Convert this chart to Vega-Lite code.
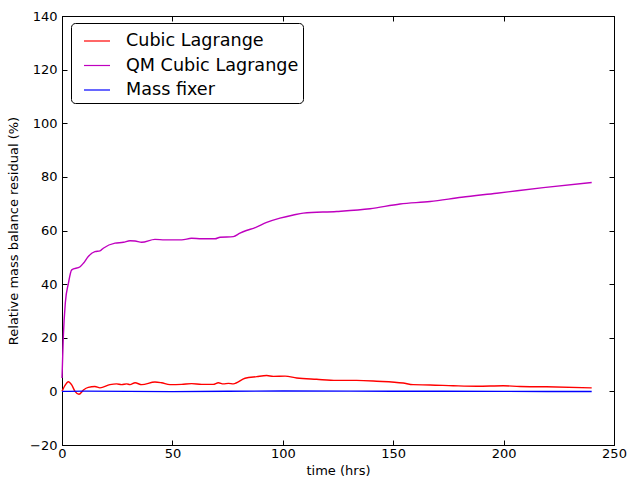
{
  "$schema": "https://vega.github.io/schema/vega-lite/v6.json",
  "width": 552,
  "height": 429,
  "autosize": {"type": "none"},
  "padding": {"left": 62, "top": 16, "right": 13, "bottom": 37},
  "background": "white",
  "config": {
    "font": "DejaVu Sans",
    "view": {"stroke": "black", "strokeWidth": 1},
    "axis": {
      "grid": false,
      "domainColor": "black",
      "tickColor": "black",
      "labelColor": "black",
      "titleColor": "black",
      "labelFont": "DejaVu Sans",
      "titleFont": "DejaVu Sans",
      "labelFontSize": 13,
      "titleFontSize": 13,
      "titleFontWeight": "normal",
      "tickSize": -5,
      "labelPadding": 10,
      "labelFlush": false,
      "labelOverlap": false
    }
  },
  "data": {
    "values": [
      {"t": 0, "v": 5, "s": "QM Cubic Lagrange"},
      {"t": 0.6, "v": 20.4, "s": "QM Cubic Lagrange"},
      {"t": 1.5, "v": 33, "s": "QM Cubic Lagrange"},
      {"t": 2.9, "v": 40.3, "s": "QM Cubic Lagrange"},
      {"t": 4.4, "v": 45.3, "s": "QM Cubic Lagrange"},
      {"t": 8.2, "v": 46.5, "s": "QM Cubic Lagrange"},
      {"t": 9.7, "v": 47.8, "s": "QM Cubic Lagrange"},
      {"t": 11.9, "v": 50.3, "s": "QM Cubic Lagrange"},
      {"t": 14.9, "v": 52.1, "s": "QM Cubic Lagrange"},
      {"t": 17.2, "v": 52.4, "s": "QM Cubic Lagrange"},
      {"t": 18.7, "v": 53.4, "s": "QM Cubic Lagrange"},
      {"t": 24, "v": 55.3, "s": "QM Cubic Lagrange"},
      {"t": 27.8, "v": 55.6, "s": "QM Cubic Lagrange"},
      {"t": 30.8, "v": 56.2, "s": "QM Cubic Lagrange"},
      {"t": 33.1, "v": 56.1, "s": "QM Cubic Lagrange"},
      {"t": 36.1, "v": 55.6, "s": "QM Cubic Lagrange"},
      {"t": 42.1, "v": 56.7, "s": "QM Cubic Lagrange"},
      {"t": 46.6, "v": 56.5, "s": "QM Cubic Lagrange"},
      {"t": 54.2, "v": 56.5, "s": "QM Cubic Lagrange"},
      {"t": 58.7, "v": 57.1, "s": "QM Cubic Lagrange"},
      {"t": 63.2, "v": 56.9, "s": "QM Cubic Lagrange"},
      {"t": 69.3, "v": 56.9, "s": "QM Cubic Lagrange"},
      {"t": 71.6, "v": 57.5, "s": "QM Cubic Lagrange"},
      {"t": 77.6, "v": 57.7, "s": "QM Cubic Lagrange"},
      {"t": 80.6, "v": 59.0, "s": "QM Cubic Lagrange"},
      {"t": 83.5, "v": 60.0, "s": "QM Cubic Lagrange"},
      {"t": 87.0, "v": 60.9, "s": "QM Cubic Lagrange"},
      {"t": 92.7, "v": 63, "s": "QM Cubic Lagrange"},
      {"t": 98.7, "v": 64.6, "s": "QM Cubic Lagrange"},
      {"t": 104.8, "v": 65.8, "s": "QM Cubic Lagrange"},
      {"t": 109.3, "v": 66.5, "s": "QM Cubic Lagrange"},
      {"t": 124.4, "v": 67.1, "s": "QM Cubic Lagrange"},
      {"t": 139.5, "v": 68.1, "s": "QM Cubic Lagrange"},
      {"t": 153.1, "v": 69.9, "s": "QM Cubic Lagrange"},
      {"t": 166.7, "v": 70.8, "s": "QM Cubic Lagrange"},
      {"t": 181.0, "v": 72.4, "s": "QM Cubic Lagrange"},
      {"t": 196.9, "v": 73.9, "s": "QM Cubic Lagrange"},
      {"t": 218.0, "v": 76.0, "s": "QM Cubic Lagrange"},
      {"t": 239.9, "v": 77.9, "s": "QM Cubic Lagrange"},

      {"t": 0, "v": 0, "s": "Cubic Lagrange"},
      {"t": 1.2, "v": 2.0, "s": "Cubic Lagrange"},
      {"t": 2.9, "v": 3.6, "s": "Cubic Lagrange"},
      {"t": 4.4, "v": 2.4, "s": "Cubic Lagrange"},
      {"t": 5.9, "v": 0, "s": "Cubic Lagrange"},
      {"t": 7.7, "v": -1.1, "s": "Cubic Lagrange"},
      {"t": 9.7, "v": 0.5, "s": "Cubic Lagrange"},
      {"t": 11.9, "v": 1.5, "s": "Cubic Lagrange"},
      {"t": 14.9, "v": 1.8, "s": "Cubic Lagrange"},
      {"t": 17.2, "v": 1.3, "s": "Cubic Lagrange"},
      {"t": 21.7, "v": 2.5, "s": "Cubic Lagrange"},
      {"t": 24.7, "v": 2.8, "s": "Cubic Lagrange"},
      {"t": 27, "v": 2.5, "s": "Cubic Lagrange"},
      {"t": 29.3, "v": 2.8, "s": "Cubic Lagrange"},
      {"t": 30.8, "v": 2.5, "s": "Cubic Lagrange"},
      {"t": 33.1, "v": 3.2, "s": "Cubic Lagrange"},
      {"t": 36.1, "v": 2.5, "s": "Cubic Lagrange"},
      {"t": 42.1, "v": 3.5, "s": "Cubic Lagrange"},
      {"t": 45.1, "v": 3.2, "s": "Cubic Lagrange"},
      {"t": 48.9, "v": 2.5, "s": "Cubic Lagrange"},
      {"t": 54.2, "v": 2.6, "s": "Cubic Lagrange"},
      {"t": 58.7, "v": 2.9, "s": "Cubic Lagrange"},
      {"t": 63.2, "v": 2.6, "s": "Cubic Lagrange"},
      {"t": 68.5, "v": 2.6, "s": "Cubic Lagrange"},
      {"t": 70.8, "v": 3.2, "s": "Cubic Lagrange"},
      {"t": 73.1, "v": 2.8, "s": "Cubic Lagrange"},
      {"t": 75.4, "v": 3.0, "s": "Cubic Lagrange"},
      {"t": 77.6, "v": 2.8, "s": "Cubic Lagrange"},
      {"t": 82.9, "v": 4.9, "s": "Cubic Lagrange"},
      {"t": 88.2, "v": 5.5, "s": "Cubic Lagrange"},
      {"t": 92.7, "v": 5.9, "s": "Cubic Lagrange"},
      {"t": 95.7, "v": 5.6, "s": "Cubic Lagrange"},
      {"t": 101, "v": 5.7, "s": "Cubic Lagrange"},
      {"t": 106.3, "v": 5.0, "s": "Cubic Lagrange"},
      {"t": 115.3, "v": 4.5, "s": "Cubic Lagrange"},
      {"t": 124.4, "v": 4.1, "s": "Cubic Lagrange"},
      {"t": 133.4, "v": 4.1, "s": "Cubic Lagrange"},
      {"t": 142.5, "v": 3.8, "s": "Cubic Lagrange"},
      {"t": 154.5, "v": 3.1, "s": "Cubic Lagrange"},
      {"t": 159, "v": 2.5, "s": "Cubic Lagrange"},
      {"t": 166.7, "v": 2.4, "s": "Cubic Lagrange"},
      {"t": 177.2, "v": 2.1, "s": "Cubic Lagrange"},
      {"t": 188.0, "v": 1.9, "s": "Cubic Lagrange"},
      {"t": 199.8, "v": 2.1, "s": "Cubic Lagrange"},
      {"t": 207.4, "v": 1.8, "s": "Cubic Lagrange"},
      {"t": 219.4, "v": 1.7, "s": "Cubic Lagrange"},
      {"t": 239.9, "v": 1.3, "s": "Cubic Lagrange"},

      {"t": 0, "v": 0, "s": "Mass fixer"},
      {"t": 10, "v": 0.1, "s": "Mass fixer"},
      {"t": 50, "v": -0.1, "s": "Mass fixer"},
      {"t": 100, "v": 0.15, "s": "Mass fixer"},
      {"t": 150, "v": 0.05, "s": "Mass fixer"},
      {"t": 200, "v": 0.0, "s": "Mass fixer"},
      {"t": 239.9, "v": -0.05, "s": "Mass fixer"}
    ]
  },
  "layer": [
    {
      "mark": {"type": "line", "strokeWidth": 1.4, "interpolate": "monotone"},
      "encoding": {
        "x": {"field": "t", "type": "quantitative", "scale": {"domain": [0, 250], "nice": false}, "axis": {"title": "time (hrs)", "values": [0, 50, 100, 150, 200, 250], "titlePadding": 4, "labelPadding": 7}},
        "y": {"field": "v", "type": "quantitative", "scale": {"domain": [-20, 140], "nice": false}, "axis": {"title": "Relative mass balance residual (%)", "values": [-20, 0, 20, 40, 60, 80, 100, 120, 140], "titlePadding": 9}},
        "color": {
          "field": "s", "type": "nominal",
          "sort": ["Cubic Lagrange", "QM Cubic Lagrange", "Mass fixer"],
          "scale": {"domain": ["Cubic Lagrange", "QM Cubic Lagrange", "Mass fixer"], "range": ["#ff0000", "#bf00bf", "#0000ff"]},
          "legend": {
            "title": null,
            "orient": "none",
            "legendX": 9,
            "legendY": 7,
            "symbolType": "stroke",
            "symbolSize": 676,
            "symbolStrokeWidth": 1.2,
            "symbolOffset": 8,
            "labelFontSize": 17.6,
            "labelLimit": 400,
            "labelFont": "DejaVu Sans",
            "labelColor": "black",
            "labelOffset": 15,
            "rowPadding": 1.5,
            "padding": 4,
            "strokeColor": "black",
            "fillColor": "white",
            "cornerRadius": 4
          }
        },
        "detail": {"field": "s"}
      }
    },
    {
      "mark": {"type": "point", "opacity": 0},
      "encoding": {
        "x": {"field": "t", "type": "quantitative", "axis": {"orient": "top", "labels": false, "title": null, "values": [0, 50, 100, 150, 200, 250]}},
        "y": {"field": "v", "type": "quantitative", "axis": {"orient": "right", "labels": false, "title": null, "values": [-20, 0, 20, 40, 60, 80, 100, 120, 140]}}
      }
    }
  ],
  "resolve": {"axis": {"x": "independent", "y": "independent"}}
}
